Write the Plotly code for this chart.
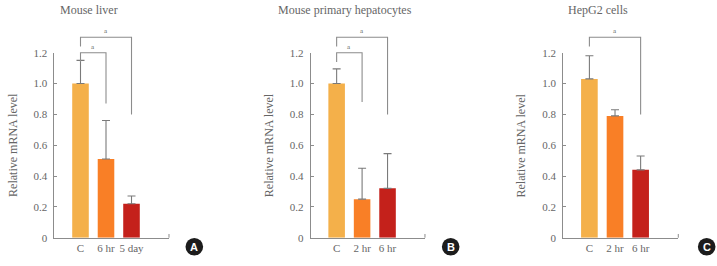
import plotly.graph_objects as go

# ---- data ----
panel_titles = ["Mouse liver", "Mouse primary hepatocytes", "HepG2 cells"]
panel_letters = ["A", "B", "C"]

cats_a = ["C", "6 hr", "5 day"]
vals_a = [1.00, 0.51, 0.22]
err_a = [0.15, 0.25, 0.05]

cats_b = ["C", "2 hr", "6 hr"]
vals_b = [1.00, 0.25, 0.32]
err_b = [0.095, 0.20, 0.225]

cats_c = ["C", "2 hr", "6 hr"]
vals_c = [1.03, 0.79, 0.44]
err_c = [0.15, 0.04, 0.09]

# significance brackets: (from index, to index, top level, right-end level)
brackets_a = [(0, 2, 1.30, 0.80), (0, 1, 1.20, 0.87)]
brackets_b = [(0, 2, 1.30, 0.80), (0, 1, 1.20, 0.88)]
brackets_c = [(0, 2, 1.30, 0.80)]
sig_label = "a"

y_ticks = [0, 0.2, 0.4, 0.6, 0.8, 1.0, 1.2]
y_ticktext = ["0", "0.2", "0.4", "0.6", "0.8", "1.0", "1.2"]
y_title = "Relative mRNA level"

bar_colors = ["#F4B04A", "#F97F26", "#C4211B"]

# ---- layout constants ----
x_domains = [(0.0760, 0.2357), (0.4333, 0.5927), (0.7856, 0.9460)]
y_dom_bars = (0.1064, 0.8019)
y_dom_ann = (0.1064, 0.9177)
x_range = [-1.02, 3.47]
badge_x = [1.221, 1.225, 1.247]
axis_gray = "#8c8c8c"
text_gray = "#666666"
serif = "Liberation Serif"

panels = [
    (cats_a, vals_a, err_a, brackets_a),
    (cats_b, vals_b, err_b, brackets_b),
    (cats_c, vals_c, err_c, brackets_c),
]

fig = go.Figure()
layout = dict(
    width=717, height=266,
    margin=dict(l=0, r=0, t=0, b=0, autoexpand=False),
    paper_bgcolor="white", plot_bgcolor="rgba(0,0,0,0)",
    showlegend=False,
    annotations=[], shapes=[],
)

for i, (cats, vals, errs, brs) in enumerate(panels):
    xn = "x" if i == 0 else f"x{i+1}"
    yb = "y" if i == 0 else f"y{2*i+1}"
    ya = f"y{2*i+2}"
    xkey = "xaxis" if i == 0 else f"xaxis{i+1}"
    ybkey = "yaxis" if i == 0 else f"yaxis{2*i+1}"
    yakey = f"yaxis{2*i+2}"

    fig.add_trace(go.Bar(
        x=cats, y=vals, xaxis=xn, yaxis=yb,
        width=0.65,
        marker=dict(color=bar_colors, line=dict(width=0)),
        error_y=dict(type="data", symmetric=False, array=errs,
                     arrayminus=[0] * len(errs),
                     color="#7a7a7a", thickness=1.1, width=4),
        hoverinfo="skip",
    ))

    for (a, b, top, right_end) in brs:
        fig.add_trace(go.Scatter(
            x=[cats[a], cats[a], cats[b], cats[b]],
            y=[top - 0.06, top, top, right_end],
            xaxis=xn, yaxis=ya, mode="lines",
            line=dict(color=axis_gray, width=1.1),
            hoverinfo="skip",
        ))
        layout["annotations"].append(dict(
            x=(a + b) / 2, y=top, xref=xn, yref=ya,
            text=sig_label, showarrow=False, yanchor="bottom",
            font=dict(family=serif, size=7, color=text_gray),
        ))

    layout[xkey] = dict(
        domain=list(x_domains[i]), anchor=yb, type="category",
        categoryorder="array", categoryarray=cats,
        range=x_range, showline=True, linecolor=axis_gray, linewidth=1,
        ticks="", showgrid=False, zeroline=False, automargin=False,
        tickfont=dict(family=serif, size=11, color=text_gray),
    )
    layout[ybkey] = dict(
        domain=list(y_dom_bars), anchor=xn, range=[0, 1.2],
        showline=True, linecolor=axis_gray, linewidth=1,
        ticks="inside", ticklen=3, tickcolor=axis_gray,
        tickvals=y_ticks, ticktext=y_ticktext, automargin=False,
        showgrid=False, zeroline=False, ticklabelstandoff=4,
        tickfont=dict(family=serif, size=11, color=text_gray),
    )
    layout[yakey] = dict(
        domain=list(y_dom_ann), anchor=xn, range=[0, 1.4], visible=False,
        automargin=False,
    )

    # y-axis title
    layout["annotations"].append(dict(
        x=-0.365, y=0.5, xref=f"{xn} domain", yref=f"{yb} domain",
        text=y_title, textangle=-90, showarrow=False,
        xanchor="center", yanchor="middle",
        font=dict(family=serif, size=12, color=text_gray),
    ))
    # panel title
    layout["annotations"].append(dict(
        x=0.301, y=0.962, xref=f"{xn} domain", yref="paper",
        text=panel_titles[i], showarrow=False,
        xanchor="center", yanchor="middle",
        font=dict(family=serif, size=12, color=text_gray),
    ))
    # right-end tick of x axis
    layout["shapes"].append(dict(
        type="line", xref=f"{xn} domain", yref=f"{yb} domain",
        x0=1, x1=1, y0=0, y1=0.02,
        line=dict(color=axis_gray, width=1),
    ))
    # panel badge
    layout["shapes"].append(dict(
        type="circle", xref=f"{xn} domain", yref=f"{yb} domain",
        xsizemode="pixel", ysizemode="pixel",
        xanchor=badge_x[i], yanchor=-0.0486,
        x0=-8.8, x1=8.8, y0=-8.8, y1=8.8,
        fillcolor="#1c1c1c", line=dict(width=0),
    ))
    layout["annotations"].append(dict(
        x=badge_x[i], y=-0.0486, xref=f"{xn} domain", yref=f"{yb} domain",
        text=f"<b>{panel_letters[i]}</b>", showarrow=False,
        xanchor="center", yanchor="middle",
        font=dict(family="Liberation Sans", size=11, color="white"),
    ))

fig.update_layout(**layout)
fig.write_html("out.html")
